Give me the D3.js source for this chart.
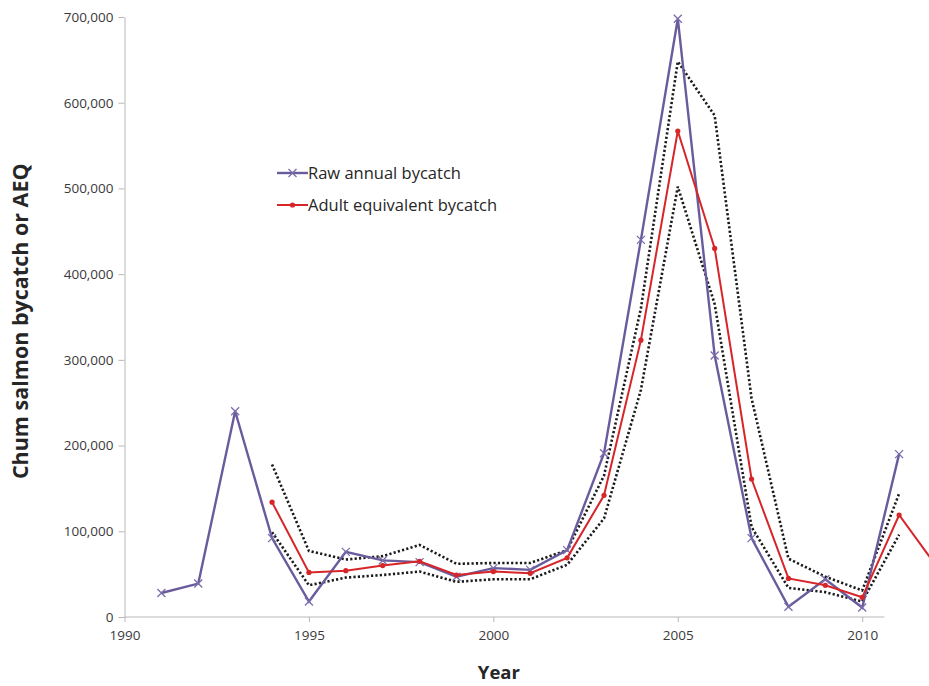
<!DOCTYPE html>
<html>
<head>
<meta charset="utf-8">
<script src="https://cdn.jsdelivr.net/npm/d3@7"></script>
<style>
  body { margin: 0; background: #fff; }
  svg { display: block; font-family: "Open Sans", sans-serif; }
</style>
</head>
<body>
<svg id="chart"></svg>
<script>
var width = 929, height = 686;
var margin = { top: 17, right: -7, bottom: 69, left: 124.5 };

// raw annual bycatch, 1991-2011
var rawYears = d3.range(1991, 2012);
var rawBycatch = [28000, 39000, 240000, 92000, 18000, 76000, 66000, 64000, 47000, 57000, 55000,
                  78000, 191000, 440000, 698000, 305000, 92000, 12000, 44000, 11000, 190000];

// adult equivalent bycatch (AEQ), 1994-2012
var aeqYears = d3.range(1994, 2013);
var aeqBycatch = [134000, 52000, 54000, 60000, 65000, 49000, 53000, 51000, 69000, 142000,
                  323000, 567000, 430000, 161000, 45000, 37000, 23000, 119000, 60000];

// AEQ bounds (dotted), 1994-2011
var boundYears = d3.range(1994, 2012);
var aeqUpper = [178000, 77000, 67000, 71000, 84000, 62000, 63000, 63000, 78000, 165000,
                360000, 648000, 585000, 255000, 68000, 47000, 31000, 144000];
var aeqLower = [99000, 37000, 46000, 49000, 53000, 41000, 44000, 44000, 61000, 115000,
                265000, 502000, 365000, 105000, 34000, 29000, 18000, 96000];

var xTicks = [1990, 1995, 2000, 2005, 2010];
var yTicks = d3.range(0, 700001, 100000);
var axisEnd = 2010.6;

var svg = d3.select("#chart").attr("width", width).attr("height", height);

var x = d3.scaleLinear().domain([1990, 2012]).range([margin.left, width - margin.right]);
var y = d3.scaleLinear().domain([0, 700000]).range([height - margin.bottom, margin.top]);

// axes
var yAxis = svg.append("g")
  .attr("transform", "translate(" + x(1990) + ",0)")
  .call(d3.axisLeft(y).tickValues(yTicks).tickFormat(d3.format(",")).tickSize(6).tickPadding(5).tickSizeOuter(0));
yAxis.attr("font-family", "Open Sans, sans-serif").attr("font-size", 13.5);
yAxis.select(".domain").attr("stroke", "#b8b8b8");
yAxis.selectAll(".tick line").attr("stroke", "#b8b8b8");
yAxis.selectAll(".tick text").attr("fill", "#3a3a3a");

var xAxis = svg.append("g")
  .attr("transform", "translate(0," + y(0) + ")")
  .call(d3.axisBottom(x).tickValues(xTicks).tickFormat(d3.format("d")).tickSize(5).tickPadding(8));
xAxis.attr("font-family", "Open Sans, sans-serif").attr("font-size", 13.5);
xAxis.select(".domain").remove();
xAxis.selectAll(".tick line").attr("stroke", "#b8b8b8");
xAxis.selectAll(".tick text").attr("fill", "#3a3a3a");
xAxis.append("line")
  .attr("x1", x(1990)).attr("x2", x(axisEnd))
  .attr("stroke", "#b8b8b8");

// axis titles
svg.append("text")
  .attr("transform", "translate(28," + (y(345000)) + ") rotate(-90)")
  .attr("text-anchor", "middle")
  .style("font-size", "21.5px").style("font-weight", "bold").style("fill", "#262626")
  .text("Chum salmon bycatch or AEQ");

svg.append("text")
  .attr("x", x(2000.15)).attr("y", 679)
  .attr("text-anchor", "middle")
  .style("font-size", "18.5px").style("font-weight", "bold").style("fill", "#262626")
  .text("Year");

function series(years, vals) {
  return years.map(function(yr, i) { return { year: yr, value: vals[i] }; });
}
var line = d3.line()
  .x(function(d) { return x(d.year); })
  .y(function(d) { return y(d.value); });

var rawData = series(rawYears, rawBycatch);
var aeqData = series(aeqYears, aeqBycatch);

// dotted bounds
[aeqUpper, aeqLower].forEach(function(vals) {
  svg.append("path")
    .datum(series(boundYears, vals))
    .attr("d", line)
    .attr("fill", "none")
    .attr("stroke", "#1a1a1a")
    .attr("stroke-width", 2.6)
    .attr("stroke-dasharray", "2.2,2.2");
});

// raw line
svg.append("path")
  .datum(rawData)
  .attr("d", line)
  .attr("fill", "none")
  .attr("stroke", "#6a5b9c")
  .attr("stroke-width", 2.4);

function cross(g, cx, cy) {
  g.append("path")
    .attr("d", "M" + (cx - 4) + "," + (cy - 4) + "L" + (cx + 4) + "," + (cy + 4) +
               "M" + (cx - 4) + "," + (cy + 4) + "L" + (cx + 4) + "," + (cy - 4))
    .attr("stroke", "#7a6cab")
    .attr("stroke-width", 1.3);
}
var crosses = svg.append("g");
rawData.forEach(function(d) { cross(crosses, x(d.year), y(d.value)); });

// AEQ line
svg.append("path")
  .datum(aeqData)
  .attr("d", line)
  .attr("fill", "none")
  .attr("stroke", "#d6262a")
  .attr("stroke-width", 2);

svg.append("g").selectAll("circle")
  .data(aeqData)
  .enter()
  .append("circle")
  .attr("cx", function(d) { return x(d.year); })
  .attr("cy", function(d) { return y(d.value); })
  .attr("r", 2.6)
  .attr("fill", "#d6262a");

// legend
var legend = svg.append("g").attr("transform", "translate(277,173)");
legend.append("line").attr("x1", 0).attr("x2", 31).attr("y1", 0).attr("y2", 0)
  .attr("stroke", "#6a5b9c").attr("stroke-width", 2.4);
cross(legend, 15.5, 0);
legend.append("text").attr("x", 31).attr("y", 0).attr("dy", "0.35em")
  .style("font-size", "16.5px").style("fill", "#262626")
  .text("Raw annual bycatch");

legend.append("line").attr("x1", 0).attr("x2", 31).attr("y1", 32).attr("y2", 32)
  .attr("stroke", "#d6262a").attr("stroke-width", 2);
legend.append("circle").attr("cx", 15.5).attr("cy", 32).attr("r", 2.6).attr("fill", "#d6262a");
legend.append("text").attr("x", 31).attr("y", 32).attr("dy", "0.35em")
  .style("font-size", "16.5px").style("fill", "#262626")
  .text("Adult equivalent bycatch");
</script>
</body>
</html>
